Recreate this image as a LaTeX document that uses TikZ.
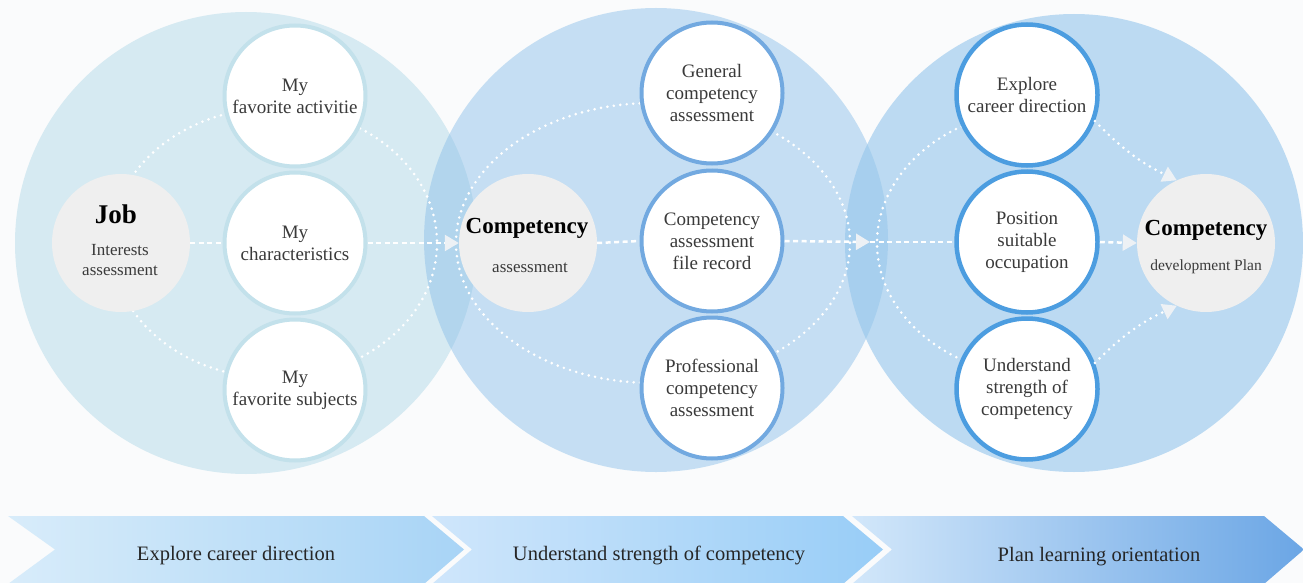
\documentclass[tikz,border=0pt]{standalone}
\usepackage{fontspec}
\setmainfont{Liberation Serif}
\usetikzlibrary{arrows.meta}
\definecolor{bg}{HTML}{FAFBFC}
\definecolor{bigA}{HTML}{D6EAF2}
\definecolor{bigB}{HTML}{8BBFE9}
\definecolor{bigC}{HTML}{96C7EC}
\definecolor{ringA}{HTML}{C3E1EB}
\definecolor{ringB}{HTML}{72A9E0}
\definecolor{ringC}{HTML}{4C9DE0}
\definecolor{grayc}{HTML}{EFEFEF}
\definecolor{txt}{HTML}{3A3A3A}
\definecolor{tipc}{HTML}{EDF1F5}
\definecolor{chAl}{RGB}{216,236,250}
\definecolor{chAr}{RGB}{168,212,246}
\definecolor{chBl}{RGB}{207,230,251}
\definecolor{chBr}{RGB}{152,205,247}
\definecolor{chCl}{RGB}{210,231,250}
\definecolor{chCr}{RGB}{107,166,229}
\tikzset{
  whitecirc/.style={circle, fill=white, minimum size=141pt, inner sep=0pt,
    line width=4pt, align=center, font=\fontsize{19}{22}\selectfont, text=txt},
  ringa/.style={whitecirc, draw=ringA},
  ringb/.style={whitecirc, draw=ringB},
  ringc/.style={whitecirc, draw=ringC, line width=4.5pt},
  graycirc/.style={circle, fill=grayc, minimum size=138pt, inner sep=0pt},
  titlelab/.style={anchor=base, font=\fontsize{23}{23}\selectfont\bfseries, text=black, inner sep=0pt},
  sublab/.style={anchor=base, font=\fontsize{17}{20}\selectfont, text=txt, inner sep=0pt},
  chevlab/.style={anchor=base, font=\fontsize{20.5}{22}\selectfont, text=black!85, inner sep=0pt},
  dotline/.style={white, line width=2.9pt, line cap=round, dash pattern=on 0pt off 6.5pt},
  dashline/.style={white, line width=2.5pt, dash pattern=on 5pt off 3.5pt},
  tiphead/.style={-{Triangle[length=14pt,width=16pt,color=tipc]}},
}
\begin{document}
\begin{tikzpicture}[x=1pt,y=-1pt]
\useasboundingbox (0,0) rectangle (1303,583);
\fill[bg] (0,0) rectangle (1303,583);
% large circles
\fill[bigA] (246,243) circle[radius=231];
\fill[bigB, fill opacity=0.47] (656,240) circle[radius=232];
\fill[bigC, fill opacity=0.62] (1074,243) circle[radius=229];
% dotted ellipses
\draw[dotline] (274,243) ellipse[x radius=163, y radius=135];
\draw[dotline] (653,243) ellipse[x radius=197, y radius=140];
\draw[dotline] (1047,243) ++(80:170 and 135) arc[start angle=80, end angle=280, x radius=170, y radius=135];
% chevrons
\shade[left color=chAl, right color=chAr]
  (8,516) -- (424,516) -- (464,549.5) -- (424,584) -- (8,584) -- (55,549.5) -- cycle;
\shade[left color=chBl, right color=chBr]
  (432,516) -- (843,516) -- (883,549.5) -- (843,584) -- (432,584) -- (472,549.5) -- cycle;
\shade[left color=chCl, right color=chCr]
  (852,516) -- (1264,516) -- (1304,549.5) -- (1264,584) -- (852,584) -- (892,549.5) -- cycle;
\node[chevlab] (ch1) at (236,560) {Explore career direction};
\node[chevlab] (ch2) at (659,560) {Understand strength of competency};
\node[chevlab] (ch3) at (1099,561) {Plan learning orientation};
% group 1
\node[graycirc] (cp1) at (121,243) {};
\node[ringa] (a1) at (295,96) {My\\favorite activitie};
\node[ringa] (a2) at (295,243) {My\\characteristics};
\node[ringa] (a3) at (295,390) {My\\favorite subjects};
% group 2
\node[graycirc] (cp2) at (528,243) {};
\node[ringb] (b1) at (712,93) {General\\competency\\assessment};
\node[ringb] (b2) at (712,241) {Competency\\assessment\\file record};
\node[ringb] (b3) at (712,388) {Professional\\competency\\assessment};
% group 3
\node[graycirc] (cp3) at (1206,243) {};
\node[ringc] (c1) at (1027,95) {Explore\\career direction};
\node[ringc] (c2) at (1027,242) {Position\\suitable\\occupation};
\node[ringc] (c3) at (1027,389) {Understand\\strength of\\competency};
% labels in grey circles
\node[titlelab, font=\fontsize{27}{27}\selectfont\bfseries] (jobt) at (116,223) {Job};
\node[sublab] (jobs1) at (120,255) {Interests};
\node[sublab] (jobs2) at (120,275) {assessment};
\node[titlelab] (compt) at (527,233) {Competency};
\node[sublab] (comps) at (530,272) {assessment};
\node[titlelab] (devt) at (1206,235) {Competency};
\node[sublab, font=\fontsize{15.5}{18}\selectfont] (devs) at (1206,270) {development Plan};
% connectors
\draw[dashline] (cp1.east) -- (a2.west);
\draw[dashline, tiphead] (a2.east) -- (cp2.west);
\draw[dashline] (cp2.east) -- (b2.west);
\coordinate (mid) at (870,242);
\draw[dashline, tiphead] (b2.east) -- (mid);
\draw[dashline] (mid) -- (c2.west);
\draw[dashline, tiphead] (c2.east) -- (cp3.west);
\draw[dotline, tiphead] (c1.-21) to[bend right=10] (cp3.115);
\draw[dotline, tiphead] (c3.21) to[bend left=10] (cp3.-115);
\end{tikzpicture}
\end{document}
